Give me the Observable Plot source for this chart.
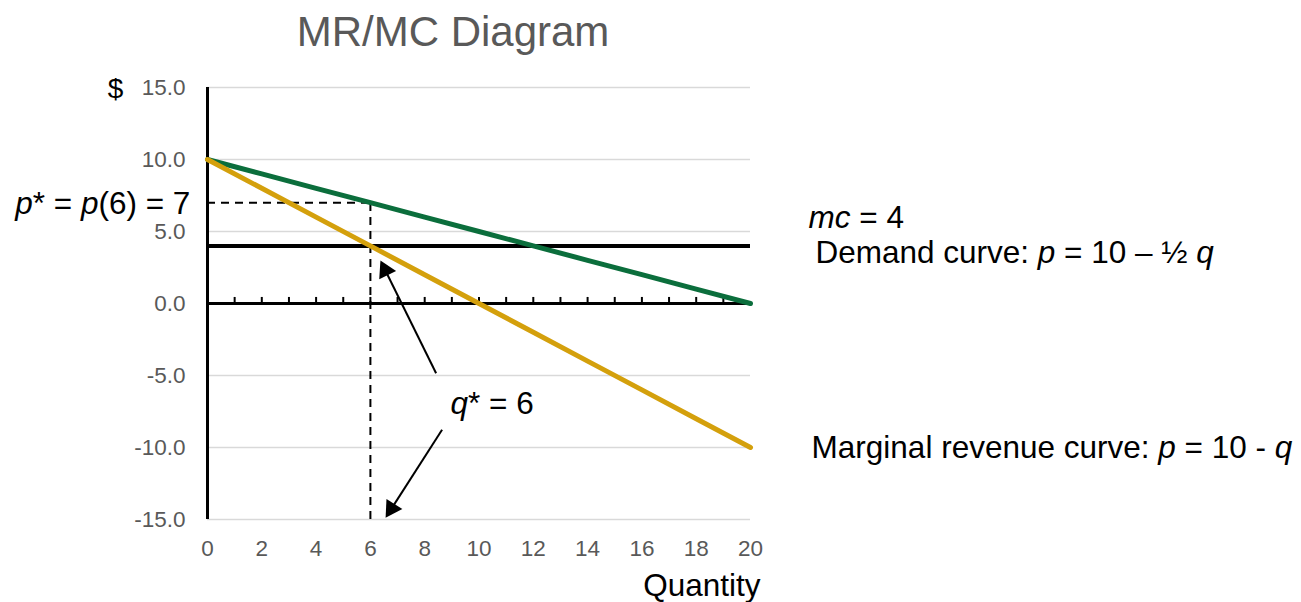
<!DOCTYPE html>
<html>
<head>
<meta charset="utf-8">
<script src="https://cdn.jsdelivr.net/npm/d3@7"></script>
<script src="https://cdn.jsdelivr.net/npm/@observablehq/plot@0.6"></script>
<style>
  html, body { margin: 0; padding: 0; background: #fff; overflow: hidden; }
  body { font-family: "Liberation Sans", Arial, sans-serif; }
  #title { width: 906px; height: 64px; line-height: 64px; text-align: center; font-size: 42px; color: #595959; white-space: nowrap; }
  #chart svg { display: block; }
  #chart svg g[aria-label$="tick label"], #chart svg g[aria-label$="tick label"] text { font-size: 22.5px; fill: #595959; }
</style>
</head>
<body>
<div id="title">MR/MC Diagram</div>
<div id="chart"></div>
<script>
// ---- data ----
const quantity    = [0, 2, 4, 6, 8, 10, 12, 14, 16, 18, 20];
const demandPrice = [10, 9, 8, 7, 6, 5, 4, 3, 2, 1, 0];
const mrPrice     = [10, 8, 6, 4, 2, 0, -2, -4, -6, -8, -10];
const mcValue = 4;
const qStar = 6;
const pStar = 7;
const xTicks = [0, 2, 4, 6, 8, 10, 12, 14, 16, 18, 20];
const yTicks = [-15, -10, -5, 0, 5, 10, 15];
const gridY = [-15, -10, -5, 5, 10, 15];
const minorTicks = [1, 2, 3, 4, 5, 6, 7, 8, 9, 10, 11, 12, 13, 14, 15, 16, 17, 18, 19];
const arrowTailX = [8.42, 8.64];
const arrowTailY = [-4.84, -8.77];
const arrowTipX  = [6.37, 6.56];
const arrowTipY  = [2.99, -14.88];
const leftLabels  = ["{mc} = 4", "Demand curve: {p} = 10 – ½ {q}", "Marginal revenue curve: {p} = 10 - {q}", "{q}* = 6"];
const leftLabelX  = [22.14, 22.39, 22.25, 8.95];
const leftLabelY  = [5.95, 3.49, -10.06, -7.0];
const rightLabels = ["{p}* = {p}(6) = 7", "Quantity"];
const rightLabelX = [-0.63, 20.37];
const rightLabelY = [6.9, -19.58];
const yAxisLabel = "$";
const yAxisLabelX = -3.39;
const yAxisLabelY = 14.86;

// ---- build tables ----
const curves = quantity.map((q, i) => ({q, demand: demandPrice[i], mr: mrPrice[i]}));
const W = 1301, H = 538, ML = 207, MR = 551, MT = 23, MB = 83;
const kx = (W - ML - MR) / 20, ky = (H - MT - MB) / 30;
const headR = 7;
const headSide = Math.sqrt(4 * Math.PI * headR * headR / Math.sqrt(3));
const headBack = (2 / 3) * headSide * Math.sqrt(3) / 2;
const arrows = arrowTailX.map((x1, i) => {
  const x2 = arrowTipX[i], y1 = arrowTailY[i], y2 = arrowTipY[i];
  const sx = (x2 - x1) * kx, sy = -(y2 - y1) * ky;
  const len = Math.hypot(sx, sy);
  const ux = sx / len, uy = sy / len;
  return {
    x1, y1,
    hx: x2 - ux * headBack / kx,
    hy: y2 + uy * headBack / ky,
    angle: Math.atan2(ux, -uy) * 180 / Math.PI
  };
});
const leftTable = leftLabels.map((t, i) => ({t, x: leftLabelX[i], y: leftLabelY[i]}));
const rightTable = rightLabels.map((t, i) => ({t, x: rightLabelX[i], y: rightLabelY[i]}));

const chart = Plot.plot({
  width: W, height: H,
  marginLeft: ML, marginRight: MR, marginTop: MT, marginBottom: MB,
  style: {fontFamily: "'Liberation Sans', Arial, sans-serif", fontSize: "22.5px", background: "#fff", overflow: "visible"},
  x: {domain: [0, 20]},
  y: {domain: [-15, 15]},
  marks: [
    Plot.ruleY(gridY, {stroke: "#d9d9d9", strokeWidth: 1.5}),
    Plot.axisX({ticks: xTicks, tickSize: 0, tickPadding: 21, fill: "#595959", fontSize: 22.5, label: null}),
    Plot.axisY({ticks: yTicks, tickSize: 0, tickPadding: 22, fill: "#595959", fontSize: 22.5, label: null, tickFormat: d => d.toFixed(1)}),
    Plot.ruleY([0], {stroke: "black", strokeWidth: 3}),
    Plot.ruleX(minorTicks, {y1: 0, y2: 0.42, stroke: "black", strokeWidth: 2}),
    Plot.ruleX([0], {y1: -15, y2: 15, stroke: "black", strokeWidth: 3}),
    Plot.ruleX([qStar], {y1: -15, y2: pStar, stroke: "black", strokeWidth: 2, strokeDasharray: "8,6"}),
    Plot.ruleY([pStar], {x1: 0, x2: qStar, stroke: "black", strokeWidth: 2, strokeDasharray: "8,6"}),
    Plot.ruleY([mcValue], {stroke: "black", strokeWidth: 4}),
    Plot.line(curves, {x: "q", y: "demand", stroke: "#0b6e3c", strokeWidth: 5}),
    Plot.line(curves, {x: "q", y: "mr", stroke: "#d4a00c", strokeWidth: 5}),
    Plot.link(arrows, {x1: "x1", y1: "y1", x2: "hx", y2: "hy", stroke: "black", strokeWidth: 2}),
    Plot.dot(arrows, {x: "hx", y: "hy", symbol: "triangle", r: headR, fill: "black", stroke: "none", rotate: "angle"}),
    Plot.text(leftTable, {x: "x", y: "y", text: "t", textAnchor: "start", lineAnchor: "middle", fontSize: 31.5, fill: "black"}),
    Plot.text(rightTable, {x: "x", y: "y", text: "t", textAnchor: "end", lineAnchor: "middle", fontSize: 31.5, fill: "black"}),
    Plot.text([yAxisLabel], {x: () => yAxisLabelX, y: () => yAxisLabelY, text: d => d, textAnchor: "middle", lineAnchor: "middle", fontSize: 28, fill: "black"})
  ]
});

// tick label size (make sure it applies)
chart.querySelectorAll('g[aria-label$="tick label"]').forEach(g => {
  g.setAttribute("font-size", "22.5");
  g.style.fontSize = "22.5px";
});

// italic segments marked with {…}
chart.querySelectorAll("text").forEach(t => {
  const s = t.textContent;
  if (!s.includes("{")) return;
  while (t.firstChild) t.removeChild(t.firstChild);
  s.split(/(\{[^}]*\})/).forEach(part => {
    if (!part) return;
    const ts = document.createElementNS("http://www.w3.org/2000/svg", "tspan");
    if (part.startsWith("{")) {
      ts.setAttribute("font-style", "italic");
      ts.textContent = part.slice(1, -1);
    } else {
      ts.textContent = part;
    }
    t.appendChild(ts);
  });
  t.setAttribute("xml:space", "preserve");
  t.style.whiteSpace = "pre";
});

document.getElementById("chart").appendChild(chart);
</script>
</body>
</html>
